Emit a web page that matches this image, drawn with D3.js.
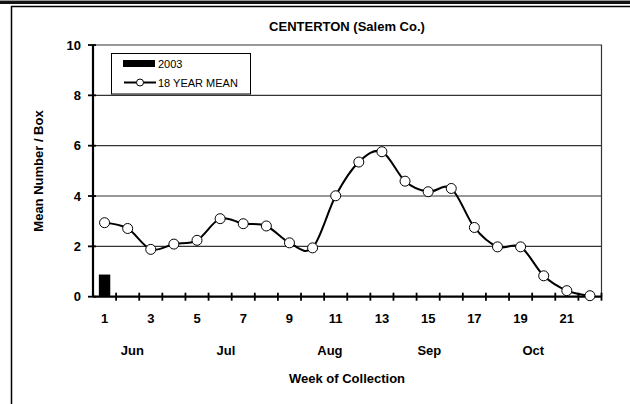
<!DOCTYPE html>
<html><head><meta charset="utf-8">
<script src="https://cdn.jsdelivr.net/npm/d3@7"></script>
<style>body{margin:0;background:#fff}svg{display:block;font-family:"Liberation Sans",Arial,sans-serif}</style>
</head><body>
<script>
const weeks = d3.range(1, 23);
const weekLabels = ["1","","3","","5","","7","","9","","11","","13","","15","","17","","19","","21",""];
const months = [{name:"Jun", pos:1.7}, {name:"Jul", pos:5.75}, {name:"Aug", pos:10.25}, {name:"Sep", pos:14.55}, {name:"Oct", pos:19.05}];
const values2003 = [0.88,0,0,0,0,0,0,0,0,0,0,0,0,0,0,0,0,0,0,0,0,0];
const mean18 = [2.94,2.71,1.88,2.09,2.24,3.10,2.90,2.81,2.14,1.94,4.01,5.35,5.76,4.59,4.17,4.30,2.75,1.98,1.98,0.83,0.24,0.04];
const yTicks = [0,2,4,6,8,10];

const W = 630, H = 404;
const svg = d3.select("body").append("svg").attr("width", W).attr("height", H);

// frame
svg.append("line").attr("x1",0).attr("x2",W).attr("y1",0.5).attr("y2",0.5).attr("stroke","#999").attr("stroke-width",1);
svg.append("line").attr("x1",0).attr("x2",W).attr("y1",2.5).attr("y2",2.5).attr("stroke","#111").attr("stroke-width",3);
svg.append("rect").attr("x",11.5).attr("y",6.5).attr("width",700).attr("height",500).attr("fill","none").attr("stroke","#000").attr("stroke-width",1.5);

const x0 = 93, x1 = 601.5, y0 = 296.7, y1 = 45;
const x = d3.scaleBand().domain(weeks).range([x0, x1]).padding(0);
const y = d3.scaleLinear().domain([0, 10]).range([y0, y1]);
const cx = d => x(d) + x.bandwidth() / 2;

// gridlines
svg.append("g").selectAll("line").data(yTicks.filter(d => d > 0 && d < 10)).join("line")
  .attr("x1", x0).attr("x2", x1).attr("y1", d => y(d)).attr("y2", d => y(d))
  .attr("stroke", "#333").attr("stroke-width", 1.2);
// plot border top/right
svg.append("path").attr("d", `M${x0},${y(10)}H${x1}V${y0}`).attr("fill","none").attr("stroke","#333").attr("stroke-width",1.2);

// bars
svg.append("g").selectAll("rect").data(weeks.map((w,i)=>({w, v: values2003[i]})).filter(d=>d.v>0)).join("rect")
  .attr("x", d => cx(d.w) - 5.7).attr("width", 11.4)
  .attr("y", d => y(d.v)).attr("height", d => y0 - y(d.v)).attr("fill", "#000");

// y axis
const yAxis = svg.append("g").attr("transform", `translate(${x0},0)`)
  .call(d3.axisLeft(y).tickValues(yTicks).tickSize(0).tickPadding(12).tickFormat(d3.format("d")));
yAxis.select(".domain").remove();
yAxis.selectAll("text").attr("font-size", 13).attr("font-weight", "bold").attr("fill","#000").attr("font-family","Liberation Sans, Arial, sans-serif");
svg.append("line").attr("x1", x0).attr("x2", x0).attr("y1", y1).attr("y2", y0).attr("stroke","#000").attr("stroke-width",2.2);
svg.append("g").selectAll("line").data(yTicks).join("line")
  .attr("x1", x0-5).attr("x2", x0+3).attr("y1", d=>y(d)).attr("y2", d=>y(d)).attr("stroke","#000").attr("stroke-width",1.8);

// x axis
const xAxis = svg.append("g").attr("transform", `translate(0,${y0})`)
  .call(d3.axisBottom(x).tickSize(0).tickPadding(17).tickFormat((d,i) => weekLabels[i]));
xAxis.select(".domain").remove();
xAxis.selectAll("text").attr("font-size", 13).attr("font-weight", "bold").attr("fill","#000").attr("font-family","Liberation Sans, Arial, sans-serif");
svg.append("line").attr("x1", x0).attr("x2", x1).attr("y1", y0).attr("y2", y0).attr("stroke","#000").attr("stroke-width",2.2);
svg.append("g").selectAll("line").data(weeks).join("line")
  .attr("x1", d => x(d) + x.bandwidth()).attr("x2", d => x(d) + x.bandwidth())
  .attr("y1", y0-4).attr("y2", y0+4).attr("stroke","#000").attr("stroke-width",1.8);

// months
svg.append("g").selectAll("text").data(months).join("text")
  .attr("x", d => x0 + x.bandwidth() * d.pos)
  .attr("y", 355).attr("text-anchor","middle").attr("font-size",13).attr("font-weight","bold").text(d => d.name);

// line
const line = d3.line().x((d,i) => cx(weeks[i])).y(d => y(d)).curve(d3.curveCatmullRom.alpha(0));
svg.append("path").datum(mean18).attr("d", line).attr("fill","none").attr("stroke","#000").attr("stroke-width",2);
svg.append("g").selectAll("circle").data(mean18).join("circle")
  .attr("cx", (d,i) => cx(weeks[i])).attr("cy", d => y(d)).attr("r", 5)
  .attr("fill","#fff").attr("stroke","#000").attr("stroke-width",1);

// titles
svg.append("text").attr("x", 347).attr("y", 31).attr("text-anchor","middle").attr("font-size",13).attr("font-weight","bold").text("CENTERTON (Salem Co.)");
svg.append("text").attr("x", 347).attr("y", 383).attr("text-anchor","middle").attr("font-size",13).attr("font-weight","bold").text("Week of Collection");
svg.append("text").attr("transform", "translate(43,171) rotate(-90)").attr("text-anchor","middle").attr("font-size",13).attr("font-weight","bold").text("Mean Number / Box");

// legend
const lg = svg.append("g");
lg.append("rect").attr("x",111.5).attr("y",53.5).attr("width",139).attr("height",40.5).attr("fill","#fff").attr("stroke","#000").attr("stroke-width",1);
lg.append("rect").attr("x",123).attr("y",60).attr("width",32).attr("height",7).attr("fill","#000");
lg.append("text").attr("x",158).attr("y",68).attr("font-size",11).text("2003");
lg.append("line").attr("x1",124).attr("x2",156).attr("y1",82.5).attr("y2",82.5).attr("stroke","#000").attr("stroke-width",2);
lg.append("circle").attr("cx",140).attr("cy",82.5).attr("r",3.5).attr("fill","#fff").attr("stroke","#000").attr("stroke-width",1);
lg.append("text").attr("x",158).attr("y",86.5).attr("font-size",11).text("18 YEAR MEAN");
</script>
</body></html>
